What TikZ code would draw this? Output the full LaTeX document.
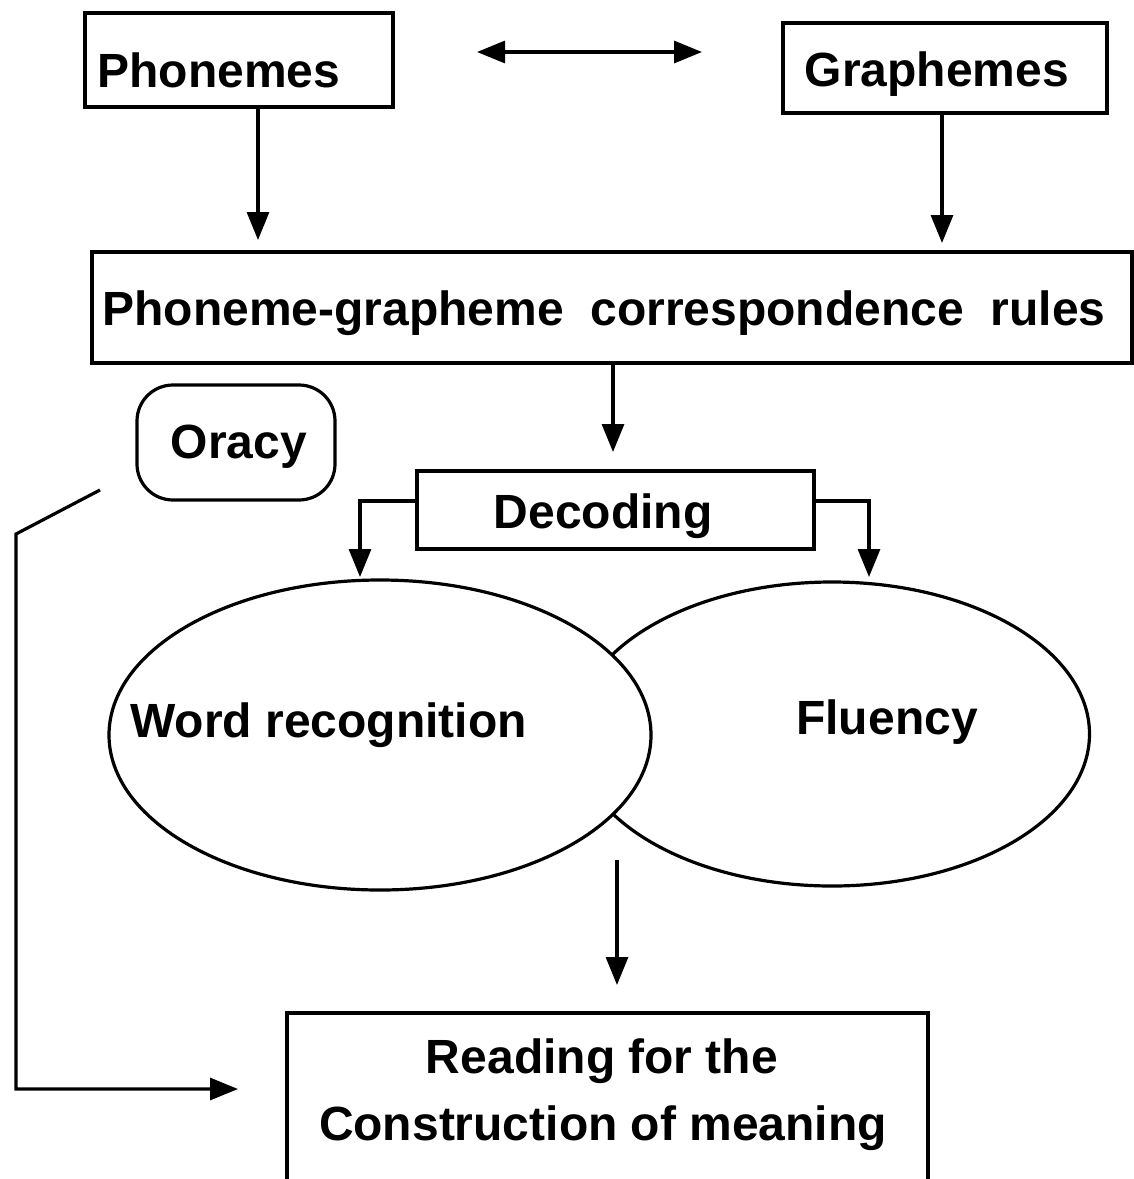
\documentclass[tikz,border=0pt]{standalone}
\usepackage{fontspec}
\setmainfont{Liberation Sans}
\usetikzlibrary{arrows.meta,shapes.geometric}
\begin{document}
\begin{tikzpicture}[x=1pt,y=-1pt,
  line width=3.2pt,
  boxnode/.style={draw, rectangle, inner sep=0pt},
  lbl/.style={anchor=base, inner sep=0pt, font=\fontsize{48}{66}\selectfont\bfseries},
  arr/.style={-{Triangle[length=28pt,width=22pt]}},
  dblarr/.style={{Triangle[length=28pt,width=22pt]}-{Triangle[length=28pt,width=22pt]}},
  ell/.style={draw, ellipse, inner sep=0pt}]
\clip (0,0) rectangle (1134,1179);
\fill[white] (0,0) rectangle (1134,1179);

% boxes
\node[boxnode, minimum width=308, minimum height=94] (ph) at (239,60) {};
\node[boxnode, minimum width=324, minimum height=90] (gr) at (945,68) {};
\node[boxnode, minimum width=1040, minimum height=111] (pgc) at (612,307.5) {};
\node[boxnode, rounded corners=36pt, minimum width=198, minimum height=115] (or) at (236,442.5) {};
\node[boxnode, minimum width=397, minimum height=78] (dec) at (615.5,510) {};
\node[boxnode, minimum width=641, minimum height=240] (rd) at (607.5,1133) {};

% ellipses
\node[ell, minimum width=515, minimum height=304] (fl) at (832,734) {};
\node[ell, fill=white, minimum width=542, minimum height=310] (wr) at (380,735) {};

% labels
\node[lbl] (tph) at (219,87) {Phonemes};
\node[lbl] (tgr) at (937,86) {Graphemes};
\node[lbl] (tpgc) at (604,325) {Phoneme-grapheme\ \ correspondence\ \ rules};
\node[lbl] (tor) at (239,458) {Oracy};
\node[lbl] (tdec) at (603,528) {Decoding};
\node[lbl] (twr) at (328.5,737) {Word recognition};
\node[lbl] (tfl) at (887,734) {Fluency};
\node[lbl] (trd1) at (602,1073) {Reading for the};
\node[lbl] (trd2) at (603,1140) {Construction of meaning};

% coordinates for free ends
\coordinate (dL) at (477,52);
\coordinate (dR) at (702,52);
\coordinate (phA) at (258,240);
\coordinate (grA) at (942,243);
\coordinate (pgcA) at (613,452);
\coordinate (decL) at (360,577);
\coordinate (decR) at (869,577);
\coordinate (flS) at (617,860);
\coordinate (flA) at (617,985);
\coordinate (o1) at (100,490);
\coordinate (o2) at (16,534);
\coordinate (o3) at (16,1089);
\coordinate (o4) at (238,1089);

% connectors
\draw[dblarr] (dL) -- (dR);
\draw[arr] (phA |- ph.south) -- (phA);
\draw[arr] (grA |- gr.south) -- (grA);
\draw[arr] (pgcA |- pgc.south) -- (pgcA);
\draw[arr] ([yshift=9pt]dec.west) -| (decL);
\draw[arr] ([yshift=9pt]dec.east) -| (decR);
\draw[arr] (flS) -- (flA);
\draw[arr] (o1) -- (o2) -- (o3) -- (o4);
\end{tikzpicture}
\end{document}
